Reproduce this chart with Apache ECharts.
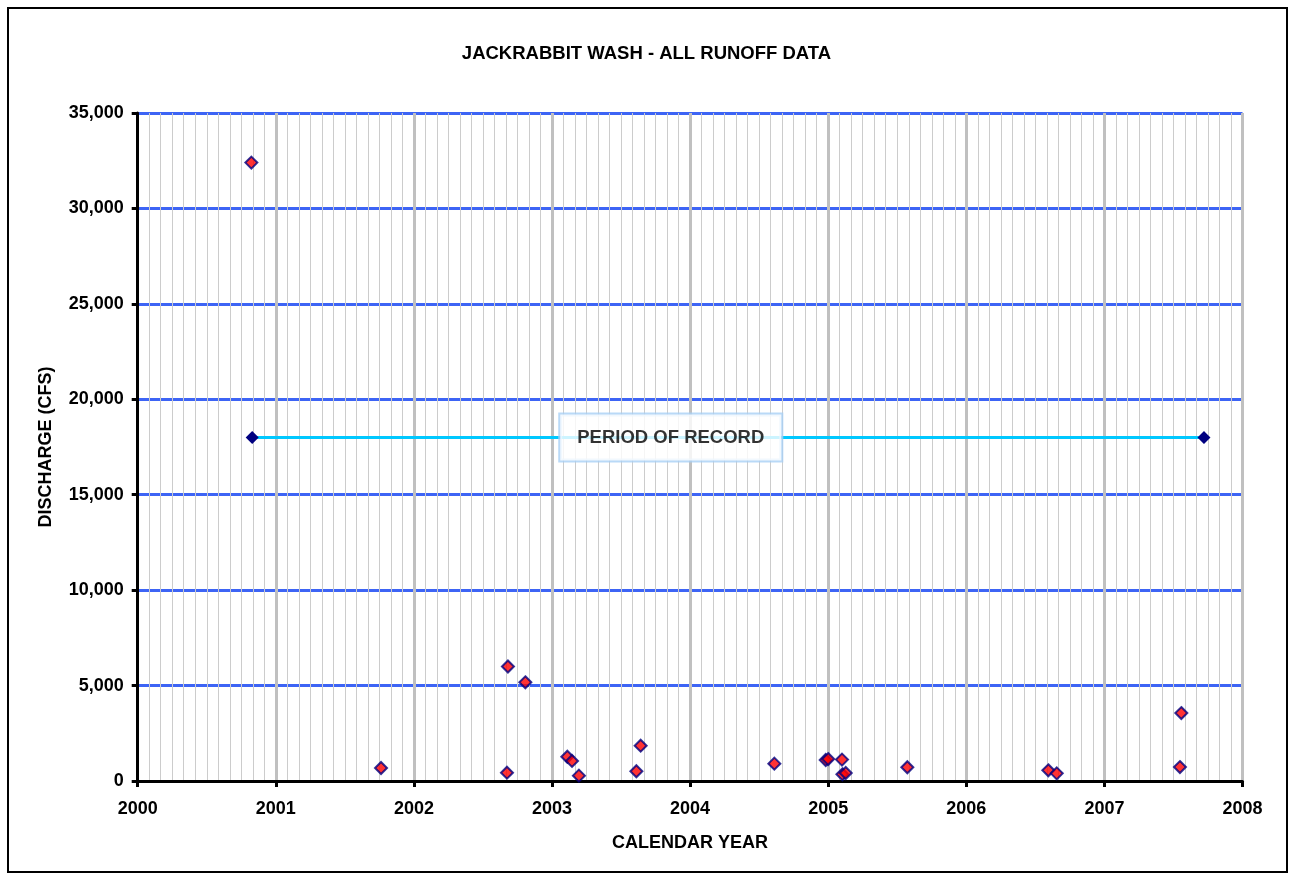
<!DOCTYPE html>
<html>
<head>
<meta charset="utf-8">
<script src="https://cdn.jsdelivr.net/npm/echarts@6/dist/echarts.min.js"></script>
<style>
html,body{margin:0;padding:0;background:#fff;}
#chart{width:1293px;height:880px;}
</style>
</head>
<body>
<div id="chart"></div>
<script>
// Runoff events: decimal calendar year and discharge (cfs)
var eventYears = [2000.823, 2001.762, 2002.674, 2002.681, 2002.807, 2003.111, 2003.145, 2003.195, 2003.611, 2003.642, 2004.610, 2004.982, 2005.000, 2005.100, 2005.103, 2005.127, 2005.573, 2006.594, 2006.655, 2007.547, 2007.557];
var discharge  = [32400, 680, 435, 6000, 5170, 1270, 1050, 280, 510, 1850, 910, 1100, 1150, 1120, 350, 420, 720, 560, 400, 730, 3560];

// Period of record
var periodYears = [2000.829, 2007.721];
var periodLevel = 18000;
var periodLabel = 'PERIOD OF RECORD';
var periodLabelYear = 2003.86;

// Axes
var xMin = 2000, xMax = 2008, xStep = 1;
var yMin = 0, yMax = 35000, yStep = 5000;

var font = 'Arial, "Liberation Sans", sans-serif';

var chart = echarts.init(document.getElementById('chart'), null, {renderer: 'canvas'});

var eventData = eventYears.map(function (x, i) { return [x, discharge[i]]; });
var periodData = periodYears.map(function (x) { return [x, periodLevel]; });

chart.setOption({
  backgroundColor: '#ffffff',
  animation: false,
  title: {
    text: 'JACKRABBIT WASH - ALL RUNOFF DATA',
    left: 'center',
    top: 39,
    textStyle: {fontFamily: font, fontWeight: 'bold', fontSize: 18.5, color: '#000'}
  },
  graphic: [{
    type: 'rect',
    shape: {x: 8, y: 8, width: 1279, height: 864},
    style: {fill: 'none', stroke: '#000', lineWidth: 2},
    z: 100
  }],
  grid: {left: 137.7, right: 50.5, top: 113, bottom: 99},
  xAxis: {
    type: 'value',
    min: xMin, max: xMax, interval: xStep,
    name: 'CALENDAR YEAR',
    nameLocation: 'middle',
    nameGap: 53,
    nameTextStyle: {fontFamily: font, fontWeight: 'bold', fontSize: 18, color: '#000'},
    axisLine: {show: true, onZero: false, lineStyle: {color: '#000', width: 3}},
    axisTick: {show: true, inside: false, length: 6, lineStyle: {color: '#000', width: 3}},
    axisLabel: {
      margin: 19,
      fontFamily: font, fontWeight: 'bold', fontSize: 18, color: '#000',
      formatter: function (v) { return String(Math.round(v)); }
    },
    splitLine: {show: true, lineStyle: {color: '#c0c0c0', width: 3}},
    minorTick: {show: false, splitNumber: 12},
    minorSplitLine: {show: true, lineStyle: {color: '#cccccc', width: 1}}
  },
  yAxis: {
    type: 'value',
    min: yMin, max: yMax, interval: yStep,
    name: 'DISCHARGE (CFS)',
    nameLocation: 'middle',
    nameRotate: 90,
    nameGap: 83,
    nameTextStyle: {fontFamily: font, fontWeight: 'bold', fontSize: 18, color: '#000'},
    axisLine: {show: true, onZero: false, lineStyle: {color: '#000', width: 3}},
    axisTick: {show: true, inside: false, length: 6, lineStyle: {color: '#000', width: 3}},
    axisLabel: {
      margin: 14,
      fontFamily: font, fontWeight: 'bold', fontSize: 18, color: '#000',
      formatter: function (v) { return v.toLocaleString('en-US'); }
    },
    splitLine: {show: true, lineStyle: {color: '#3d64f5', width: 3}}
  },
  series: [
    {
      type: 'line',
      data: periodData,
      symbol: 'diamond',
      symbolSize: 13,
      itemStyle: {color: '#000080', borderColor: '#000080', borderWidth: 0},
      lineStyle: {color: '#00c8ff', width: 3},
      z: 3
    },
    {
      type: 'scatter',
      data: [[periodLabelYear, periodLevel]],
      symbolSize: 0,
      label: {
        show: true,
        position: 'inside',
        formatter: periodLabel,
        fontFamily: font, fontWeight: 'bold', fontSize: 18.5, color: '#000000',
        backgroundColor: '#ffffff',
        borderColor: '#a8d0f5',
        borderWidth: 2,
        padding: [14, 17, 13, 17]
      },
      emphasis: {disabled: true},
      z: 5
    },
    {
      type: 'scatter',
      data: eventData,
      symbol: 'diamond',
      symbolSize: 12,
      itemStyle: {color: '#ff0000', borderColor: '#000080', borderWidth: 2},
      z: 4
    }
  ]
});
</script>
</body>
</html>
